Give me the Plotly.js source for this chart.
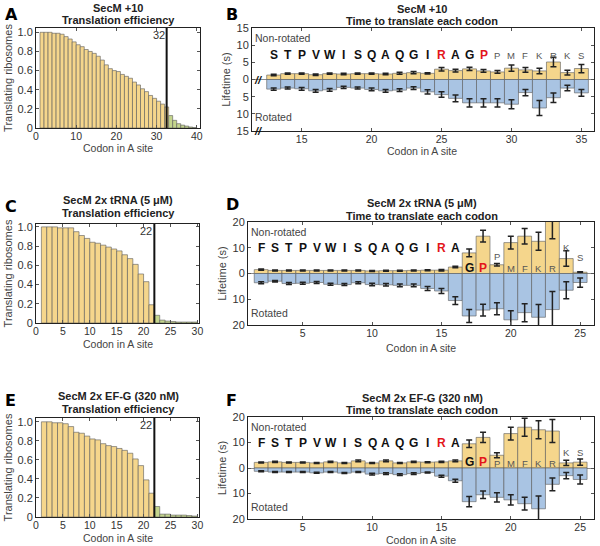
<!DOCTYPE html>
<html><head><meta charset="utf-8">
<script src="https://cdn.plot.ly/plotly-3.0.1.min.js"></script>
<style>body{margin:0;padding:0;background:#fff}#chart{width:600px;height:546px}</style>
</head><body><div id="chart"></div>
<script>
// ---------- DATA ----------
// Translation efficiency (fraction of translating ribosomes) per codon in A site
const effCodonsA = [1,2,3,4,5,6,7,8,9,10,11,12,13,14,15,16,17,18,19,20,21,22,23,24,25,26,27,28,29,30,31,32,33,34,35,36,37,38,39];
const effA = [1.0,1.0,1.0,0.99,0.99,0.98,0.955,0.93,0.90,0.87,0.85,0.82,0.80,0.78,0.75,0.71,0.66,0.62,0.60,0.59,0.56,0.54,0.52,0.48,0.45,0.41,0.38,0.34,0.31,0.28,0.25,0.22,0.13,0.08,0.045,0.03,0.02,0.01,0.005];
const cutoffA = 32.5; const cutoffLabelA = '32';

const effCodonsC = [1,2,3,4,5,6,7,8,9,10,11,12,13,14,15,16,17,18,19,20,21,22,23,24,25,26,27,28,29];
const effC = [1.0,1.0,1.0,0.99,0.99,0.99,0.95,0.91,0.88,0.84,0.83,0.81,0.79,0.77,0.75,0.71,0.67,0.61,0.51,0.43,0.19,0.08,0.03,0.02,0.015,0.01,0.01,0.01,0.01];
const cutoffC = 22; const cutoffLabelC = '22';

const effCodonsE = [1,2,3,4,5,6,7,8,9,10,11,12,13,14,15,16,17,18,19,20,21,22,23,24,25,26,27,28,29];
const effE = [1.0,1.0,0.99,0.99,0.98,0.95,0.89,0.88,0.85,0.82,0.81,0.77,0.75,0.74,0.72,0.70,0.67,0.61,0.54,0.39,0.25,0.11,0.03,0.03,0.02,0.02,0.02,0.015,0.01];
const cutoffE = 22; const cutoffLabelE = '22';

// Lifetimes (s): non-rotated (up) and rotated (down)
const codonsB = [13,14,15,16,17,18,19,20,21,22,23,24,25,26,27,28,29,30,31,32,33,34,35];
const lettersB = ['S','T','P','V','W','I','S','Q','A','Q','G','I','R','A','G','P','P','M','F','K','R','K','S'];
const nonRotB = [1.3,1.7,1.7,1.4,1.7,1.6,1.7,1.7,1.6,1.8,2.0,1.8,3.0,2.6,3.1,2.5,2.2,3.3,2.8,2.5,5.1,2.0,3.2];
const nonRotErrB = [0.2,0.2,0.2,0.2,0.2,0.2,0.2,0.2,0.2,0.3,0.3,0.2,0.5,0.4,0.5,0.4,0.4,0.9,0.7,0.8,1.4,0.7,1.2];
const rotB = [2.8,2.5,2.7,3.3,3.0,2.3,2.5,2.9,3.3,3.1,2.5,3.6,4.4,5.5,6.8,6.8,6.8,7.2,3.8,8.3,5.3,2.5,3.9];
const rotErrB = [0.3,0.3,0.4,0.4,0.4,0.3,0.3,0.4,0.4,0.4,0.4,0.6,0.8,1.0,1.2,1.2,1.2,1.3,0.9,2.2,1.4,0.8,1.0];

const codonsD = [2,3,4,5,6,7,8,9,10,11,12,13,14,15,16,17,18,19,20,21,22,23,24,25];
const lettersD = ['F','S','T','P','V','W','I','S','Q','A','Q','G','I','R','A','G','P','P','M','F','K','R','K','S'];
const nonRotD = [1.5,1.2,1.2,1.2,1.2,1.2,1.2,1.2,1.0,1.1,1.1,1.2,1.3,1.3,2.5,8.0,14.5,3.4,12.0,14.5,12.5,20.5,5.8,0.5];
const nonRotErrD = [0.2,0.2,0.2,0.2,0.2,0.2,0.2,0.2,0.2,0.2,0.2,0.2,0.2,0.3,0.3,1.5,2.3,0.5,2.5,3.0,3.5,7.0,3.0,0.2];
const rotD = [3.6,3.0,3.9,3.8,3.5,4.2,4.3,3.6,4.3,4.4,4.6,4.6,5.8,6.8,10.5,16.5,14.2,13.7,18.0,15.2,17.0,14.0,6.5,3.5];
const rotErrD = [0.4,0.3,0.4,0.4,0.4,0.4,0.4,0.4,0.5,0.5,0.5,0.5,0.8,1.0,1.5,2.5,2.3,2.3,3.5,3.5,5.0,7.0,3.3,1.8];

const codonsF = [2,3,4,5,6,7,8,9,10,11,12,13,14,15,16,17,18,19,20,21,22,23,24,25];
const lettersF = ['F','S','T','P','V','W','I','S','Q','A','Q','G','I','R','A','G','P','P','M','F','K','R','K','S'];
const nonRotF = [2.2,2.4,2.2,2.2,2.0,2.4,2.0,2.8,2.0,2.8,2.0,2.4,2.3,2.4,2.8,9.5,12.0,5.0,13.5,16.0,15.0,14.5,2.0,2.3];
const nonRotErrF = [0.2,0.2,0.2,0.2,0.2,0.2,0.2,0.3,0.2,0.3,0.2,0.2,0.2,0.2,0.3,1.5,2.0,1.0,2.5,3.5,3.5,4.5,1.0,1.2];
const rotF = [1.3,1.6,1.6,1.6,1.9,1.6,2.0,1.6,2.4,2.2,2.6,2.2,1.8,3.2,5.0,13.2,10.5,11.5,12.5,14.0,16.0,6.4,3.0,4.5];
const rotErrF = [0.2,0.2,0.2,0.2,0.2,0.2,0.2,0.2,0.3,0.3,0.3,0.3,0.2,0.4,0.6,2.0,1.5,1.8,2.0,2.5,5.0,2.5,1.2,1.8];

const titlesLeft = [['SecM +10','Translation efficiency'],['SecM 2x tRNA (5 μM)','Translation efficiency'],['SecM 2x EF-G (320 nM)','Translation efficiency']];
const titlesRight = [['SecM +10','Time to translate each codon'],['SecM 2x tRNA (5 μM)','Time to translate each codon'],['SecM 2x EF-G (320 nM)','Time to translate each codon']];
const panelLetters = ['A','B','C','D','E','F'];
const xTitle = 'Codon in A site';

// ---------- STYLE / LAYOUT ----------
const W = 600, H = 546;
const FONT = 'Liberation Sans, Arial, sans-serif';
const YEL = '#f5d68c', BLUE = '#a9c4e3', GREEN = '#c4d58c', EDGE = '#5a5a5a', TXT = '#333';
const dx = (a, b) => [a / W, b / W];
const dy = (t, b) => [1 - b / H, 1 - t / H];

// Letter placement rules per panel (codon -> y, style)
function letterStyleB(c) {
  if (c === 25 || c === 28) return {y: 7.6, kind: 'red'};
  if (c > 28) return {y: 7.6, kind: 'gray'};
  return {y: 7.6, kind: 'black'};
}
function letterStyleD(c) {
  if (c === 15) return {y: 10.5, kind: 'red'};
  if (c <= 16) return {y: 10.5, kind: 'black'};
  if (c === 17) return {y: 2.8, kind: 'black'};
  if (c === 18) return {y: 2.8, kind: 'red'};
  if (c === 19) return {y: 7.2, kind: 'gray'};
  if (c <= 23) return {y: 2.6, kind: 'gray'};
  if (c === 24) return {y: 10.8, kind: 'gray'};
  return {y: 7.0, kind: 'gray'};
}
function letterStyleF(c) {
  if (c === 15) return {y: 10.4, kind: 'red'};
  if (c <= 16) return {y: 10.4, kind: 'black'};
  if (c === 17) return {y: 3.0, kind: 'black'};
  if (c === 18) return {y: 3.0, kind: 'red'};
  if (c <= 23) return {y: 2.7, kind: 'gray'};
  return {y: 6.9, kind: 'gray'};
}

const traces = [];
const annotations = [];
const shapes = [];

function effPanel(n, codons, vals, cutoff, cutLabel) {
  traces.push({
    type: 'bar', x: codons.map(c => c + 0.5), y: vals, width: 1,
    xaxis: 'x' + (n === 1 ? '' : n), yaxis: 'y' + (n === 1 ? '' : n),
    marker: {color: codons.map(c => c < cutoff ? YEL : GREEN), line: {color: EDGE, width: 0.6}},
    hoverinfo: 'x+y', showlegend: false
  });
  const xr = n === 1 ? 'x' : 'x' + n, yr = n === 1 ? 'y' : 'y' + n;
  shapes.push({type: 'line', xref: xr, yref: yr + ' domain', x0: cutoff, x1: cutoff, y0: 0, y1: 1, line: {color: '#111', width: 2}});
  annotations.push({xref: xr, yref: yr + ' domain', x: cutoff, y: 1, xanchor: 'right', yanchor: 'top', text: cutLabel,
    showarrow: false, font: {family: FONT, size: 11, color: TXT}, xshift: 0, yshift: 1});
}

function lifePanel(n, codons, letters, nr, nrErr, rot, rotErr, styleFn, breakMarks) {
  const xa = 'x' + n, ya = 'y' + n;
  traces.push({
    type: 'bar', x: codons, y: nr, width: 1, xaxis: xa, yaxis: ya, base: 0,
    marker: {color: YEL, line: {color: EDGE, width: 0.6}},
    error_y: {type: 'data', array: nrErr, visible: true, color: '#222', thickness: 1.5, width: 3},
    showlegend: false, name: 'Non-rotated'
  });
  traces.push({
    type: 'bar', x: codons, y: rot.map(v => -v), width: 1, xaxis: xa, yaxis: ya, base: 0,
    marker: {color: BLUE, line: {color: EDGE, width: 0.6}},
    error_y: {type: 'data', array: rotErr, visible: true, color: '#222', thickness: 1.5, width: 3},
    showlegend: false, name: 'Rotated'
  });
  codons.forEach((c, i) => {
    const s = styleFn(c);
    const col = s.kind === 'red' ? '#e3151b' : (s.kind === 'gray' ? '#555' : '#111');
    const txt = s.kind === 'gray' ? letters[i] : '<b>' + letters[i] + '</b>';
    annotations.push({xref: xa, yref: ya, x: c, y: s.y, yshift: -2, text: txt, showarrow: false,
      font: {family: FONT, size: s.kind === 'gray' ? 9.5 : 12, color: col}});
  });
  const top = breakMarks ? 12 : 16, bot = breakMarks ? -11 : -15.4;
  annotations.push({xref: xa + ' domain', yref: ya, x: 0.003, y: top, xanchor: 'left', text: 'Non-rotated',
    showarrow: false, font: {family: FONT, size: 10.5, color: '#444'}});
  annotations.push({xref: xa + ' domain', yref: ya, x: 0.003, y: bot, xanchor: 'left', text: 'Rotated',
    showarrow: false, font: {family: FONT, size: 10.5, color: '#444'}});
  if (breakMarks) {
    breakMarks.forEach(v => annotations.push({xref: xa + ' domain', yref: ya, x: 0, y: v, text: '<b><i>//</i></b>',
      showarrow: false, font: {family: FONT, size: 11, color: '#111'}}));
  }
}

effPanel(1, effCodonsA, effA, cutoffA, cutoffLabelA);
lifePanel(2, codonsB, lettersB, nonRotB, nonRotErrB, rotB, rotErrB, letterStyleB, [0, -15]);
effPanel(3, effCodonsC, effC, cutoffC, cutoffLabelC);
lifePanel(4, codonsD, lettersD, nonRotD, nonRotErrD, rotD, rotErrD, letterStyleD, null);
effPanel(5, effCodonsE, effE, cutoffE, cutoffLabelE);
lifePanel(6, codonsF, lettersF, nonRotF, nonRotErrF, rotF, rotErrF, letterStyleF, null);

// Titles (two lines each), x-axis titles and panel letters
const leftTitleY = [[8, 20], [200, 213], [396, 409]];
const rightTitleY = [[9, 21], [203, 216], [398, 410]];
const leftCenter = 118, rightCenter = 422;
function addLine(txt, cx, cy) {
  annotations.push({xref: 'paper', yref: 'paper', x: cx / W, y: 1 - cy / H, xanchor: 'center', yanchor: 'middle',
    text: '<b>' + txt + '</b>', showarrow: false, font: {family: FONT, size: 11, color: '#222'}});
}
titlesLeft.forEach((t, i) => { addLine(t[0], leftCenter, leftTitleY[i][0]); addLine(t[1], leftCenter, leftTitleY[i][1]); });
titlesRight.forEach((t, i) => { addLine(t[0], rightCenter, rightTitleY[i][0]); addLine(t[1], rightCenter, rightTitleY[i][1]); });

const xTitlePos = [[118, 148], [422, 151], [118, 344], [421, 348], [118, 538], [421, 540]];
xTitlePos.forEach(p => annotations.push({xref: 'paper', yref: 'paper', x: p[0] / W, y: 1 - p[1] / H, xanchor: 'center',
  yanchor: 'middle', text: xTitle, showarrow: false, borderpad: 0, font: {family: FONT, size: 10.5, color: '#444'}}));

const letterPos = [[3, 3], [224, 3], [3, 195], [224, 193], [3, 389], [224, 389]];
panelLetters.forEach((L, i) => annotations.push({xref: 'paper', yref: 'paper', x: letterPos[i][0] / W, y: 1 - letterPos[i][1] / H,
  xanchor: 'left', yanchor: 'top', text: '<b>' + L + '</b>', showarrow: false,
  font: {family: 'DejaVu Sans, Liberation Sans, sans-serif', size: 16, color: '#000'}}));

function xAxis(domain, range, tickvals, anchor) {
  return {domain: dx(domain[0], domain[1]), range: range, anchor: anchor, tickvals: tickvals,
    ticks: 'inside', ticklen: 3, tickcolor: '#555', mirror: 'ticks', showline: true, linecolor: '#222', linewidth: 1,
    ticklabelstandoff: -2,
    showgrid: false, zeroline: false, tickfont: {family: FONT, size: 10.5, color: TXT}};
}
function yEff(domain, range, anchor) {
  return {domain: dy(domain[0], domain[1]), range: range, anchor: anchor,
    tickvals: [0, 0.2, 0.4, 0.6, 0.8, 1.0], ticktext: ['0', '0.2', '0.4', '0.6', '0.8', '1.0'],
    ticks: 'inside', ticklen: 3, tickcolor: '#555', mirror: 'ticks', showline: true, linecolor: '#222', linewidth: 1,
    showgrid: false, zeroline: false, tickfont: {family: FONT, size: 11, color: TXT},
    title: {text: 'Translating ribosomes', font: {family: FONT, size: 11, color: '#444'}, standoff: 2}};
}
function yLife(domain, lim, step, anchor) {
  const tv = []; for (let v = -lim; v <= lim + 1e-9; v += step) tv.push(v);
  return {domain: dy(domain[0], domain[1]), range: [-lim, lim], anchor: anchor,
    tickvals: tv, ticktext: tv.map(v => String(Math.abs(v))),
    ticks: 'inside', ticklen: 3, tickcolor: '#555', mirror: 'ticks', showline: true, linecolor: '#222', linewidth: 1,
    showgrid: false, zeroline: true, zerolinecolor: '#8a8a8a', zerolinewidth: 1, tickfont: {family: FONT, size: 11, color: TXT},
    title: {text: 'Lifetime (s)', font: {family: FONT, size: 11, color: '#444'}, standoff: 3}};
}

const layout = {
  width: W, height: H, margin: {l: 0, r: 0, t: 0, b: 0},
  paper_bgcolor: '#fff', plot_bgcolor: '#fff', barmode: 'overlay', showlegend: false,
  font: {family: FONT, color: TXT},
  xaxis:  xAxis([36, 200], [0, 40.8], [0, 10, 20, 30, 40], 'y'),
  yaxis:  yEff([28, 128], [0, 1.045], 'x'),
  xaxis2: xAxis([252, 594], [11.45, 35.9], [15, 20, 25, 30, 35], 'y2'),
  yaxis2: yLife([28, 131], 15, 5, 'x2'),
  xaxis3: xAxis([36, 199], [0, 30.3], [0, 5, 10, 15, 20, 25, 30], 'y3'),
  yaxis3: yEff([224, 323], [0, 1.03], 'x3'),
  xaxis4: xAxis([248, 594], [1.05, 26], [5, 10, 15, 20, 25], 'y4'),
  yaxis4: yLife([222, 325], 20, 10, 'x4'),
  xaxis5: xAxis([36, 199], [0, 30.3], [0, 5, 10, 15, 20, 25, 30], 'y5'),
  yaxis5: yEff([418, 517], [0, 1.04], 'x5'),
  xaxis6: xAxis([248, 594], [1.05, 26], [5, 10, 15, 20, 25], 'y6'),
  yaxis6: yLife([417, 519], 20, 10, 'x6'),
  annotations: annotations, shapes: shapes
};

Plotly.newPlot('chart', traces, layout, {displayModeBar: false, staticPlot: true});
</script></body></html>
